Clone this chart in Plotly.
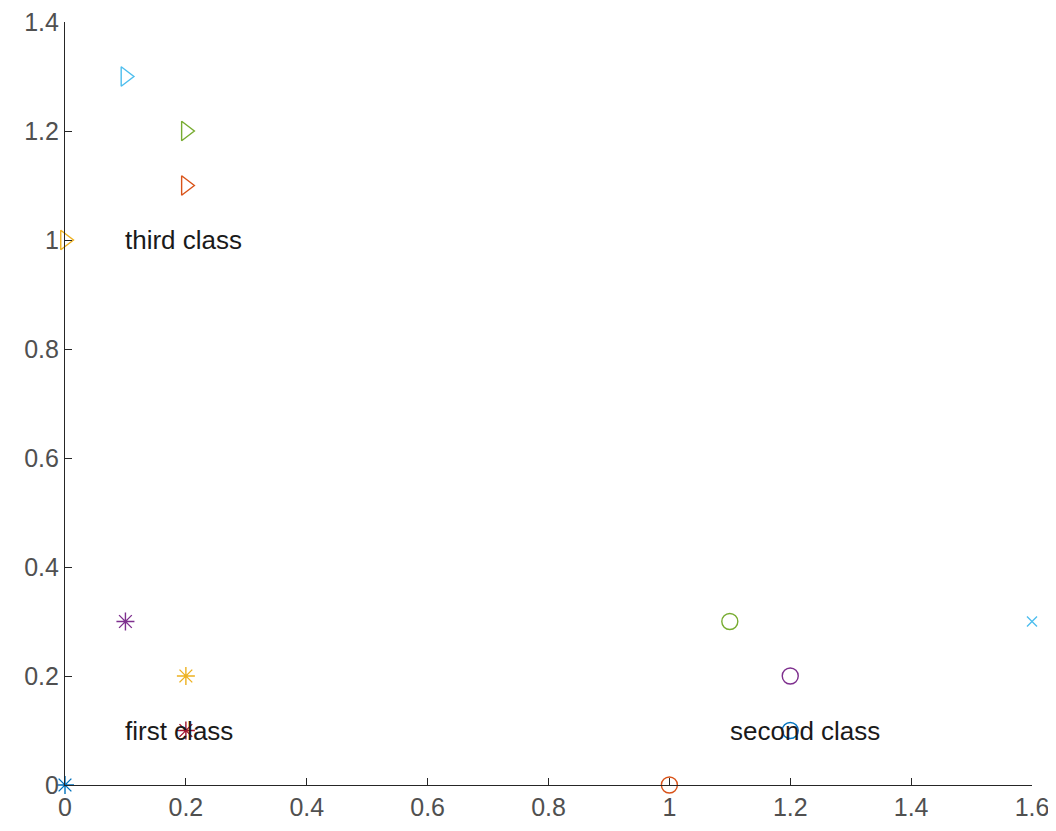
import plotly.graph_objects as go

# MATLAB default colour order
blue, orange, yellow, purple, green, lblue, dred = (
    "#0072BD", "#D95319", "#EDB120", "#7E2F8E", "#77AC30", "#4DBEEE", "#A2142F")

# first class (asterisks)
first_x = [0, 0.1, 0.2, 0.2]
first_y = [0, 0.3, 0.1, 0.2]
first_c = [blue, purple, dred, yellow]

# second class (circles)
second_x = [1, 1.1, 1.2, 1.2]
second_y = [0, 0.3, 0.1, 0.2]
second_c = [orange, green, blue, purple]

# third class (right triangles)
third_x = [0, 0.1, 0.2, 0.2]
third_y = [1, 1.3, 1.1, 1.2]
third_c = [yellow, lblue, orange, green]

# extra point (cross)
extra_x = [1.6]
extra_y = [0.3]
extra_c = [lblue]

labels = ["first class", "second class", "third class"]
label_x = [0.1, 1.1, 0.1]
label_y = [0.1, 0.1, 1.0]

xticks = [0, 0.2, 0.4, 0.6, 0.8, 1, 1.2, 1.4, 1.6]
yticks = [0, 0.2, 0.4, 0.6, 0.8, 1, 1.2, 1.4]

fig = go.Figure()

def add(xs, ys, cs, symbol, size):
    fig.add_trace(go.Scatter(
        x=xs, y=ys, mode="markers", cliponaxis=False, showlegend=False,
        marker=dict(symbol=symbol, size=size, color=cs,
                    line=dict(color=cs, width=1.4))))

add(first_x, first_y, first_c, "asterisk-open", 15)
add(second_x, second_y, second_c, "circle-open", 16)
add(third_x, third_y, third_c, "triangle-right-open", 17)
add(extra_x, extra_y, extra_c, "x-thin-open", 10)

for t, x, y in zip(labels, label_x, label_y):
    fig.add_annotation(x=x, y=y, text=t, showarrow=False, xanchor="left",
                       yanchor="middle", xshift=-2,
                       font=dict(size=26, color="#1a1a1a",
                                 family="Liberation Sans, Arial"))

axis_common = dict(showgrid=False, zeroline=False, showline=True,
                   automargin=False, ticklabeloverflow="allow",
                   linecolor="#262626", linewidth=1.2, ticks="inside",
                   ticklen=7, tickcolor="#262626", tickwidth=1.2,
                   tickfont=dict(size=25, color="#505050",
                                 family="Liberation Sans, Arial"))

fig.update_xaxes(range=[0, 1.6], tickvals=xticks,
                 ticktext=[f"{v:g}" for v in xticks], **axis_common)
fig.update_yaxes(range=[0, 1.4], tickvals=yticks,
                 ticktext=[f"{v:g}" for v in yticks], **axis_common)

fig.update_layout(width=1040, height=815, plot_bgcolor="white",
                  paper_bgcolor="white",
                  margin=dict(l=57, r=16, t=14, b=38))

fig.write_html("out.html")
